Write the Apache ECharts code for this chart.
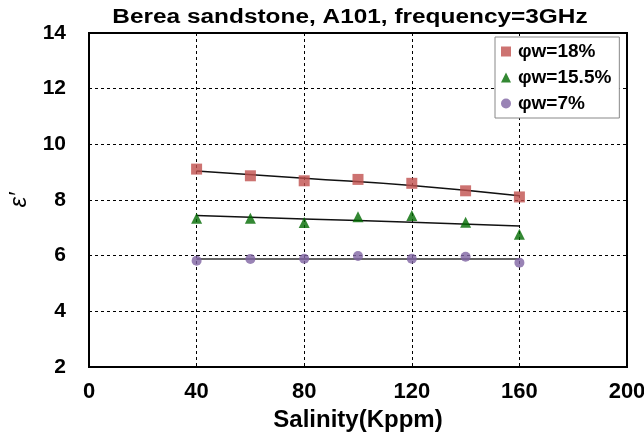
<!DOCTYPE html>
<html>
<head>
<meta charset="utf-8">
<script src="https://cdn.jsdelivr.net/npm/echarts@6/dist/echarts.min.js"></script>
<style>
  html, body { margin: 0; padding: 0; background: #fff; }
  #chart { width: 644px; height: 432px; }
</style>
</head>
<body>
<div id="chart"></div>
<script>
// Salinity values (Kppm) at which permittivity was measured
const salinity = [40, 60, 80, 100, 120, 140, 160];

// Real permittivity ε' for each water-filled porosity
const eps18 = [9.11, 8.87, 8.69, 8.74, 8.60, 8.33, 8.11];
const eps155 = [7.34, 7.34, 7.19, 7.40, 7.44, 7.20, 6.77];
const eps7 = [5.82, 5.88, 5.89, 5.99, 5.89, 5.96, 5.75];

// Trend lines through each set
const trendX = [40, 80, 120, 160];
const trend18 = [9.04, 8.78, 8.52, 8.15];
const trend155 = [7.44, 7.32, 7.20, 7.07];
const trend7 = [5.88, 5.88, 5.88, 5.88];

const seriesNames = ['\u03c6w=18%', '\u03c6w=15.5%', '\u03c6w=7%'];
const xTicks = [0, 40, 80, 120, 160, 200];
const yTicks = [2, 4, 6, 8, 10, 12, 14];
const titleText = 'Berea sandstone, A101, frequency=3GHz';

const pair = (xs, ys) => xs.map((x, i) => [x, ys[i]]);
const font = 'Arial, "Liberation Sans", sans-serif';

const chart = echarts.init(document.getElementById('chart'));

function trendSeries(ys, color, width) {
  return {
    type: 'line',
    data: pair(trendX, ys),
    symbol: 'none',
    smooth: true,
    lineStyle: { color: color, width: width },
    z: 1,
    silent: true
  };
}

chart.setOption({
  animation: false,
  backgroundColor: '#fff',
  // Wide bold heading above the plot
  graphic: [{
    type: 'text',
    x: 350,
    y: 17,
    scaleX: 1.22,
    style: {
      text: titleText,
      fontFamily: font, fontWeight: 'bold', fontSize: 20, fill: '#000',
      textAlign: 'center', textVerticalAlign: 'middle'
    }
  }],
  grid: {
    left: 89, right: 17, top: 33, bottom: 65,
    outerBoundsMode: 'none',
    containLabel: false,
    show: true, borderColor: '#000', borderWidth: 2
  },
  legend: {
    data: [
      { name: seriesNames[0], icon: 'rect' },
      { name: seriesNames[1], icon: 'triangle' },
      { name: seriesNames[2], icon: 'circle' }
    ],
    orient: 'vertical',
    left: 495,
    top: 37,
    itemWidth: 10,
    itemHeight: 10,
    itemGap: 7,
    padding: [5, 8, 5, 6],
    borderColor: '#888',
    borderWidth: 1,
    backgroundColor: '#fff',
    textStyle: { fontFamily: font, fontWeight: 'bold', fontSize: 19, color: '#000', padding: [0, 0, 0, 2] }
  },
  xAxis: {
    type: 'value',
    min: 0, max: 200, interval: 40,
    name: 'Salinity(Kppm)',
    nameLocation: 'middle',
    nameGap: 33,
    nameTextStyle: { fontFamily: font, fontWeight: 'bold', fontSize: 24, color: '#000' },
    axisLine: { show: true, lineStyle: { color: '#000', width: 2 } },
    axisTick: { show: false },
    axisLabel: {
      fontFamily: font, fontWeight: 'bold', fontSize: 22, color: '#000', margin: 14,
      formatter: v => xTicks.includes(v) ? String(v) : ''
    },
    splitLine: { show: true, lineStyle: { color: '#000', type: [3, 3], width: 1 } }
  },
  yAxis: {
    type: 'value',
    min: 2, max: 14, interval: 2,
    name: '\u03b5\u2032',
    nameLocation: 'middle',
    nameRotate: 90,
    nameGap: 58,
    nameTextStyle: { fontFamily: font, fontStyle: 'italic', fontSize: 24, color: '#000' },
    axisLine: { show: true, lineStyle: { color: '#000', width: 2 } },
    axisTick: { show: false },
    axisLabel: {
      fontFamily: font, fontWeight: 'bold', fontSize: 21, color: '#000', margin: 23,
      formatter: v => yTicks.includes(v) ? String(v) : ''
    },
    splitLine: { show: true, lineStyle: { color: '#000', type: [3, 3], width: 1 } }
  },
  series: [
    trendSeries(trend18, '#111', 1.5),
    trendSeries(trend155, '#111', 1.5),
    trendSeries(trend7, '#666', 2),
    {
      name: seriesNames[0], type: 'scatter', data: pair(salinity, eps18),
      symbol: 'rect', symbolSize: 11, itemStyle: { color: '#c0504d' }, z: 3
    },
    {
      name: seriesNames[1], type: 'scatter', data: pair(salinity, eps155),
      symbol: 'triangle', symbolSize: 11, itemStyle: { color: '#006a00' }, z: 3
    },
    {
      name: seriesNames[2], type: 'scatter', data: pair(salinity, eps7),
      symbol: 'circle', symbolSize: 10, itemStyle: { color: '#8064a2' }, z: 3
    }
  ]
});
</script>
</body>
</html>
